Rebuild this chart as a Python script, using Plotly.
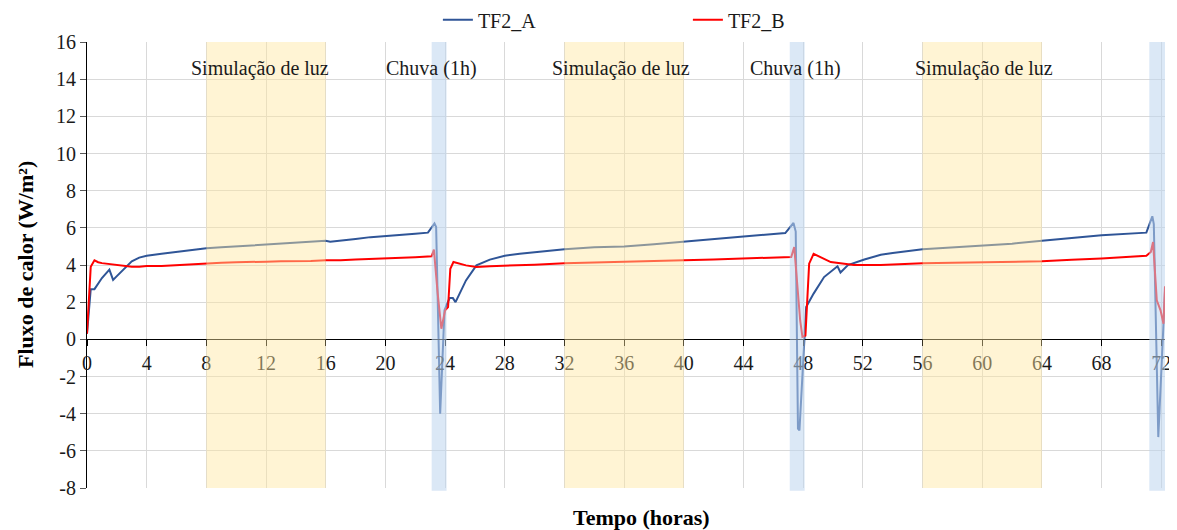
import plotly.graph_objects as go

# ---------------- data ----------------
hours_a = [0, 0.25, 0.5, 0.75, 1.0, 1.5, 1.75, 2.0, 2.5, 3.0, 3.5, 4, 5, 6, 7, 8, 9, 10, 11, 12,
           13, 14, 15, 16, 16.3, 17, 18, 19, 20, 21, 22, 22.85,
           23.29, 23.4, 23.67, 23.96, 24.3, 24.52, 24.7, 25.4, 26.1, 27, 28, 29, 30, 31, 32, 34, 36,
           38, 40, 42, 44, 46.8,
           47.35, 47.5, 47.65, 47.75, 48.1, 48.2, 48.7, 49.4, 50.3, 50.5, 51.0, 52.1, 53.2, 54, 56,
           58, 60, 62, 64, 66, 68, 71.0,
           71.4, 71.5, 71.8, 72.25]
flux_a = [0.3, 2.7, 2.7, 3.0, 3.3, 3.75, 3.2, 3.4, 3.8, 4.2, 4.4, 4.5, 4.6, 4.7, 4.8, 4.9, 4.95, 5.0, 5.05, 5.1,
          5.15, 5.2, 5.25, 5.3, 5.25, 5.3, 5.4, 5.5, 5.55, 5.62, 5.68, 5.74,
          6.23, 6.05, -4.0, 1.56, 2.22, 2.22, 2.0, 3.17, 3.98, 4.29, 4.5, 4.6, 4.68, 4.76, 4.85, 4.95, 5.0,
          5.12, 5.27, 5.4, 5.54, 5.72,
          6.26, 5.8, -4.8, -4.9, 0.04, 1.74, 2.46, 3.35, 3.93, 3.6, 4.0, 4.3, 4.55, 4.65, 4.85,
          4.95, 5.05, 5.15, 5.3, 5.45, 5.6, 5.74,
          6.62, 6.2, -5.26, 2.6]

hours_b = [0, 0.25, 0.5, 0.75, 1.0, 1.5, 2.0, 2.5, 3.0, 3.5, 4, 5, 6, 7, 8, 9, 10, 11, 12,
           13, 14, 15, 16, 17, 18, 19, 20, 21, 22, 23.1,
           23.25, 23.5, 23.75, 24.0, 24.2, 24.35, 24.56, 25.4, 26.1, 27, 28, 30, 32, 34, 36, 38,
           40, 42, 44, 47.2,
           47.4, 47.6, 47.8, 47.95, 48.15, 48.4, 48.7, 49.85, 51.4, 53.2, 56, 58, 60, 62, 64,
           66, 68, 71.0,
           71.3, 71.45, 71.7, 71.95, 72.15, 72.25]
flux_b = [0.3, 3.9, 4.25, 4.15, 4.1, 4.05, 4.0, 3.95, 3.9, 3.9, 3.95, 3.95, 4.0, 4.05, 4.1, 4.12, 4.15, 4.15, 4.18,
          4.2, 4.2, 4.22, 4.25, 4.25, 4.3, 4.32, 4.35, 4.4, 4.42, 4.47,
          4.83, 2.5, 0.57, 1.56, 1.74, 3.8, 4.16, 3.98, 3.89, 3.93, 3.95, 4.02, 4.1, 4.13, 4.15, 4.2,
          4.25, 4.3, 4.35, 4.43,
          4.97, 3.2, 1.0, 0.13, 0.2, 4.07, 4.6, 4.16, 4.0, 4.0, 4.1, 4.12, 4.15, 4.18, 4.2,
          4.28, 4.35, 4.5,
          4.7, 5.24, 2.1, 1.56, 0.84, 2.85]

light_periods = [(8, 16), (32, 40), (56, 64)]
rain_periods = [(23.1, 24.1), (47.1, 48.1), (71.2, 72.25)]
light_label = "Simulação de luz"
rain_label = "Chuva (1h)"
light_label_x = [11.6, 35.8, 60.1]
rain_label_x = [23.1, 47.5]

x_ticks = list(range(0, 73, 4))
y_ticks = list(range(-8, 17, 2))
y_tick_text = [str(v) for v in y_ticks]

FONT = "Liberation Serif, Times New Roman, serif"

fig = go.Figure()
fig.add_trace(go.Scatter(x=hours_a, y=flux_a, mode="lines", name="TF2_A",
                         line=dict(color="#2F5597", width=2)))
fig.add_trace(go.Scatter(x=hours_b, y=flux_b, mode="lines", name="TF2_B",
                         line=dict(color="#FF0000", width=2)))

for x0, x1 in light_periods:
    fig.add_shape(type="rect", xref="x", yref="paper", x0=x0, x1=x1, y0=0, y1=1,
                  fillcolor="rgba(255,230,160,0.45)", line_width=0, layer="above")
for x0, x1 in rain_periods:
    fig.add_shape(type="rect", xref="x", yref="paper", x0=x0, x1=x1, y0=-0.006, y1=1,
                  fillcolor="rgba(189,214,238,0.55)", line_width=0, layer="above")

for xv in light_label_x:
    fig.add_annotation(x=xv, y=0.9417, xref="x", yref="paper", text=light_label, showarrow=False,
                       font=dict(family=FONT, size=20, color="#1a1a1a"), xanchor="center", yanchor="middle")
for xv in rain_label_x:
    fig.add_annotation(x=xv, y=0.9417, xref="x", yref="paper", text=rain_label, showarrow=False,
                       font=dict(family=FONT, size=20, color="#1a1a1a"), xanchor="center", yanchor="middle")

fig.add_annotation(x=-0.0575, y=0.5, xref="paper", yref="paper", text="<b>Fluxo de calor (W/m²)</b>",
                   textangle=-90, showarrow=False, font=dict(family=FONT, size=22, color="black"),
                   xanchor="center", yanchor="middle")
fig.add_annotation(x=0.514, y=-0.067, xref="paper", yref="paper", text="<b>Tempo (horas)</b>",
                   showarrow=False, font=dict(family=FONT, size=22, color="black"),
                   xanchor="center", yanchor="middle")

fig.update_layout(
    width=1169, height=522,
    margin=dict(l=79, r=12, t=34, b=42, autoexpand=False),
    paper_bgcolor="white", plot_bgcolor="white",
    font=dict(family=FONT, size=20, color="#1a1a1a"),
    showlegend=True,
    legend=dict(orientation="h", x=0.3255, xanchor="left", y=1.05, yanchor="middle",
                font=dict(family=FONT, size=20, color="#1a1a1a"), entrywidth=205,
                bgcolor="rgba(0,0,0,0)"),
    xaxis=dict(range=[0, 72.25], tickvals=x_ticks, showgrid=True, gridcolor="#D9D9D9", gridwidth=1,
               anchor="free", position=1/3, showline=True, linecolor="black", linewidth=1,
               ticks="outside", ticklen=6, tickcolor="black", zeroline=False,
               tickfont=dict(family=FONT, size=20, color="#1a1a1a")),
    yaxis=dict(range=[-8, 16], tickvals=y_ticks, ticktext=y_tick_text, showgrid=True,
               gridcolor="#D9D9D9", gridwidth=1, showline=True, linecolor="black", linewidth=1,
               ticks="outside", ticklen=6, tickcolor="#595959", zeroline=False,
               tickfont=dict(family=FONT, size=20, color="#1a1a1a")),
)

fig.write_html("out.html")
